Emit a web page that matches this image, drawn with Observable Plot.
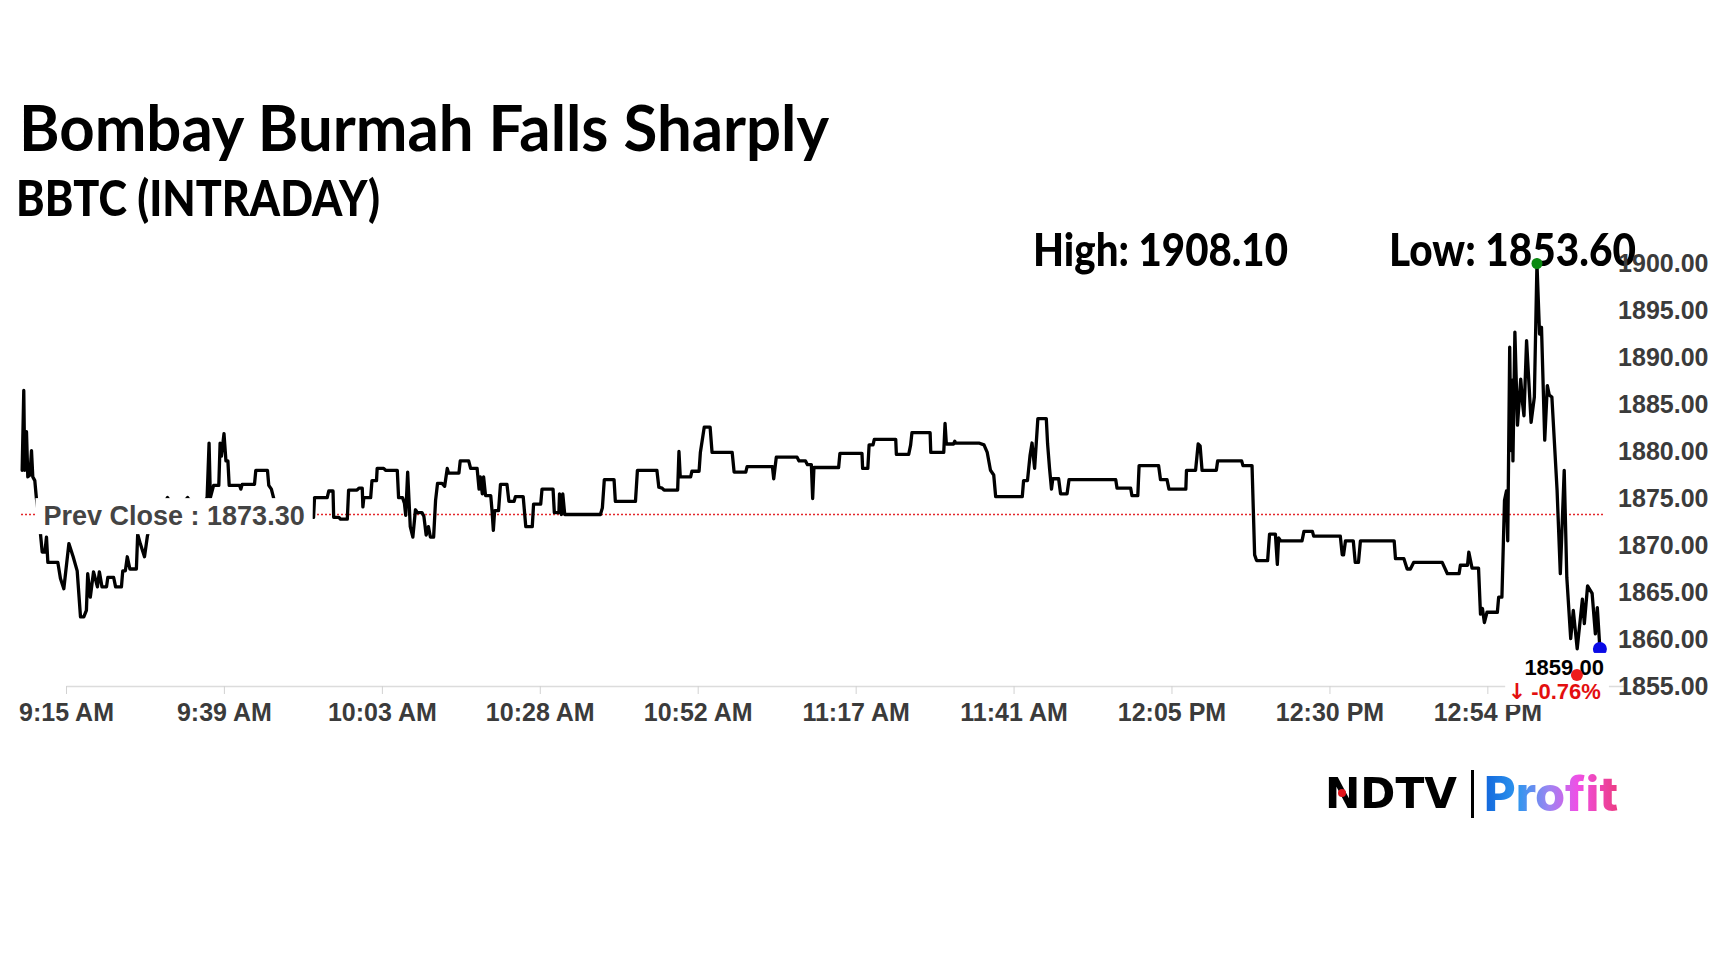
<!DOCTYPE html>
<html>
<head>
<meta charset="utf-8">
<script src="https://cdn.jsdelivr.net/npm/d3@7"></script>
<script src="https://cdn.jsdelivr.net/npm/@observablehq/plot@0.6"></script>
<style>
  html, body { margin: 0; padding: 0; background: #fff; }
  body { width: 1728px; height: 972px; position: relative; overflow: hidden; }
  .cal { position: absolute; font-family: Lato, "Noto Sans", sans-serif; font-weight: 700; color: #000;
         line-height: 1; white-space: nowrap; transform-origin: 0 0; }
  #title { left: 19px; top: 95px; font-size: 64px; }
  #subtitle { left: 16px; top: 172px; font-size: 50px; font-weight: 900; }
  #high { left: 1033px; top: 226px; font-size: 46px; font-weight: 900; }
  #low { left: 1389px; top: 226px; font-size: 46px; font-weight: 900; }
  #ndtv { position: absolute; left: 1325px; top: 773px; font-family: "DejaVu Sans", sans-serif; font-weight: 700;
          font-size: 42px; line-height: 1; color: #000; white-space: nowrap; transform-origin: 0 0; }
  #ndtvdot { position: absolute; left: 1338px; top: 789px; width: 8px; height: 8px; border-radius: 50%; background: #e3141b; }
  #bar { position: absolute; left: 1471px; top: 770px; width: 3px; height: 48px; background: #000; }
  #profit { position: absolute; left: 1484px; top: 770px; font-family: Inter, Roboto, sans-serif; font-weight: 800;
            font-size: 48px; line-height: 1; white-space: nowrap; transform-origin: 0 0;
            background: linear-gradient(90deg, #1266dc 0%, #2e96ee 25%, #9a86f2 48%, #f04fe6 70%, #ec3c82 100%);
            -webkit-background-clip: text; background-clip: text; color: transparent; }
  #chart { position: absolute; left: 0; top: 0; z-index: 2; }
</style>
</head>
<body>
<div id="title" class="cal" data-w="810">Bombay Burmah Falls Sharply</div>
<div id="subtitle" class="cal" data-w="364">BBTC (INTRADAY)</div>
<div id="high" class="cal" data-w="255"></div>
<div id="low" class="cal" data-w="247"></div>
<div id="ndtv" data-w="132">NDTV</div>
<div id="ndtvdot"></div>
<div id="bar"></div>
<div id="profit" data-w="134">Profit</div>
<div id="chart"></div>
<script>
// ---- data (minutes after 9:15 AM, price) ----
const minutes = [
  0.1, 0.35, 0.5, 0.77, 0.97, 1.3, 1.54, 1.74, 2.05, 2.3,
  2.67, 2.93, 3.19, 3.6, 3.85, 4.06, 5.6, 6.0, 6.52, 7.3,
  7.96, 8.58, 9.09, 9.6, 10.0, 10.2, 10.6, 11.1, 11.7, 12.0,
  12.4, 13.1, 13.3, 14.2, 14.5, 15.4, 15.6, 16.0, 16.3, 16.7,
  17.7, 17.9, 18.3, 18.95, 19.4, 19.7, 21.1, 22.5, 23.7, 25.6,
  27.1, 28.6, 28.9, 29.1, 29.6, 30.4, 30.6, 30.8, 31.2, 31.5,
  31.8, 32.0, 33.6, 33.8, 34.0, 35.9, 36.1, 37.9, 38.1, 38.5,
  38.9, 41.4, 45.0, 45.15, 47.1, 47.35, 48.0, 48.1, 48.9, 49.15,
  50.2, 50.4, 51.7, 52.0, 52.5, 52.6, 52.75, 53.8, 54.0, 54.7,
  54.8, 55.8, 56.1, 57.9, 58.1, 58.7, 59.0, 59.2, 59.5, 59.9,
  60.3, 60.7, 61.0, 61.7, 62.0, 62.35, 62.7, 63.0, 63.5, 63.8,
  64.1, 64.8, 65.2, 65.6, 65.8, 67.4, 67.6, 68.9, 69.2, 70.2,
  70.5, 70.7, 71.0, 71.2, 71.5, 72.3, 72.5, 72.7, 72.9, 73.5,
  73.8, 74.8, 75.1, 75.9, 76.1, 77.3, 77.7, 78.7, 78.9, 80.0,
  80.2, 81.9, 82.1, 82.8, 82.9, 83.2, 83.4, 83.7, 89.2, 89.5,
  89.8, 91.3, 91.5, 94.6, 94.9, 97.9, 98.2, 98.7, 99.0, 101.1,
  101.3, 101.5, 103.1, 103.3, 104.4, 104.6, 105.2, 106.1, 106.4, 109.5,
  109.8, 111.6, 111.8, 115.7, 115.9, 116.3, 119.5, 119.8, 120.8, 121.1,
  121.7, 121.9, 122.1, 125.9, 126.1, 129.5, 129.6, 130.4, 130.6, 131.2,
  131.4, 134.7, 134.8, 136.7, 137.0, 137.2, 140.0, 140.1, 142.1, 142.3,
  142.5, 143.6, 143.8, 143.9, 147.5, 148.3, 148.8, 149.3, 149.8, 150.1,
  154.2, 154.4, 155.0, 155.4, 155.7, 156.1, 156.6, 157.9, 158.1, 158.4,
  158.7, 158.9, 159.8, 160.1, 161.1, 161.4, 168.6, 168.8, 170.9, 171.1,
  172.0, 172.2, 175.2, 175.5, 176.5, 176.8, 179.4, 179.5, 180.9, 181.3,
  181.6, 181.9, 184.1, 184.3, 188.0, 188.2, 189.6, 190.0, 190.3, 192.0,
  192.3, 193.2, 193.5, 193.7, 194.0, 197.3, 197.6, 198.9, 199.1, 203.2,
  203.5, 203.7, 204.0, 205.2, 205.5, 206.0, 206.3, 211.5, 211.7, 213.0,
  213.5, 214.0, 214.5, 218.9, 219.7, 221.5, 221.7, 222.8, 223.0, 223.5,
  224.5, 224.8, 225.1, 225.4, 225.8, 227.4, 227.6, 228.1, 228.5, 228.8,
  229.0, 229.3, 229.5, 229.7, 229.8, 230.1, 230.5, 231.0, 231.3, 231.5,
  231.9, 232.6, 233.1, 233.5, 233.9, 234.2, 234.7, 235.1, 235.4, 235.8,
  236.6, 237.1, 237.7, 238.1, 238.7, 239.1, 239.7, 240.5, 240.8, 241.3,
  242.0, 242.5, 242.8, 243.2
];
const prices = [
  1878.0, 1886.5, 1878.0, 1882.1, 1877.3, 1877.5, 1880.1, 1877.3, 1876.9, 1875.0,
  1873.0, 1871.2, 1869.3, 1869.3, 1870.9, 1868.2, 1868.2, 1866.5, 1865.4, 1870.2,
  1868.8, 1867.3, 1862.4, 1862.4, 1863.1, 1867.0, 1864.5, 1867.2, 1865.6, 1867.2,
  1865.6, 1865.6, 1866.6, 1866.6, 1865.6, 1865.6, 1867.3, 1867.3, 1868.8, 1867.5,
  1867.5, 1871.2, 1870.2, 1868.8, 1871.0, 1872.0, 1873.5, 1875.1, 1873.5, 1875.1,
  1873.5, 1875.1, 1880.9, 1875.1, 1876.4, 1876.4, 1880.9, 1879.5, 1881.9, 1879.0,
  1879.0, 1876.4, 1876.4, 1876.0, 1876.5, 1876.5, 1878.0, 1878.0, 1876.4, 1876.0,
  1874.9, 1873.5, 1873.0, 1875.1, 1875.1, 1875.8, 1875.8, 1873.0, 1873.0, 1872.8,
  1872.8, 1875.9, 1875.9, 1876.1, 1876.1, 1874.1, 1875.1, 1875.1, 1876.9, 1876.9,
  1878.2, 1878.2, 1878.0, 1878.0, 1875.1, 1875.1, 1874.5, 1873.2, 1877.8, 1872.0,
  1870.9, 1873.8, 1873.5, 1873.5, 1873.1, 1871.1, 1872.0, 1870.9, 1870.9, 1874.8,
  1876.6, 1876.6, 1876.3, 1878.2, 1877.7, 1877.7, 1879.0, 1879.0, 1878.2, 1878.2,
  1876.0, 1877.3, 1875.5, 1877.3, 1875.3, 1875.3, 1873.7, 1871.6, 1873.7, 1873.7,
  1876.5, 1876.5, 1874.7, 1874.7, 1875.2, 1875.2, 1872.0, 1872.0, 1874.4, 1874.4,
  1876.0, 1876.0, 1873.5, 1873.5, 1875.5, 1873.3, 1875.5, 1873.3, 1873.3, 1874.0,
  1877.0, 1877.0, 1874.7, 1874.7, 1878.0, 1878.0, 1876.2, 1876.1, 1875.9, 1875.9,
  1880.0, 1877.3, 1877.3, 1877.9, 1877.9, 1879.9, 1882.6, 1882.6, 1879.9, 1879.9,
  1877.8, 1877.8, 1878.4, 1878.4, 1877.1, 1879.4, 1879.4, 1879.0, 1879.0, 1878.6,
  1878.6, 1875.0, 1878.3, 1878.3, 1879.8, 1879.8, 1878.2, 1878.2, 1880.7, 1880.7,
  1881.3, 1881.3, 1879.7, 1879.7, 1880.7, 1882.0, 1882.0, 1879.9, 1879.9, 1883.0,
  1880.8, 1880.8, 1881.1, 1880.9, 1880.9, 1880.7, 1879.9, 1878.0, 1877.5, 1875.2,
  1875.2, 1876.9, 1876.9, 1879.6, 1880.9, 1878.2, 1883.5, 1883.5, 1880.8, 1878.2,
  1876.0, 1877.1, 1877.1, 1875.5, 1875.5, 1877.0, 1877.0, 1876.1, 1876.1, 1875.3,
  1875.3, 1878.5, 1878.5, 1877.0, 1877.0, 1876.0, 1876.0, 1878.0, 1878.0, 1880.8,
  1880.6, 1878.0, 1878.0, 1879.0, 1879.0, 1878.5, 1878.5, 1869.0, 1868.4, 1868.4,
  1871.2, 1871.2, 1868.0, 1870.8, 1870.5, 1870.5, 1871.5, 1871.5, 1871.0, 1871.0,
  1869.0, 1869.0, 1870.5, 1870.5, 1868.2, 1868.2, 1870.5, 1870.5, 1868.6, 1868.6,
  1867.5, 1867.5, 1868.2, 1868.2, 1867.0, 1867.0, 1867.9, 1867.9, 1869.3, 1867.6,
  1867.6, 1862.7, 1863.3, 1861.8, 1862.9, 1862.9, 1864.5, 1864.5, 1874.8, 1875.8,
  1870.5, 1891.1, 1880.1, 1887.6, 1879.0, 1892.7, 1882.8, 1887.7, 1885.0, 1883.8,
  1891.8, 1883.1, 1885.8, 1900.0, 1892.5, 1893.2, 1881.2, 1887.0, 1886.0, 1885.8,
  1875.9, 1867.0, 1878.0, 1866.6, 1860.1, 1863.1, 1859.0, 1864.3, 1861.7, 1865.7,
  1864.9, 1860.6, 1863.4, 1859.0
];
const prevClose = 1873.30;
const dayHigh = 1908.10;
const dayLow = 1853.60;
const yTicks = [1855, 1860, 1865, 1870, 1875, 1880, 1885, 1890, 1895, 1900];
const xTickMinutes = [0, 24.33, 48.67, 73, 97.33, 121.67, 146, 170.33, 194.67, 219];
const xTickLabels = ["9:15 AM", "9:39 AM", "10:03 AM", "10:28 AM", "10:52 AM",
                     "11:17 AM", "11:41 AM", "12:05 PM", "12:30 PM", "12:54 PM"];
const xDomain = [0, 244];
const yDomain = [1855, 1900];
const baselineSpan = [7, 247];

// ---- build ----
document.getElementById("high").textContent = `High: ${dayHigh.toFixed(2)}`;
document.getElementById("low").textContent = `Low: ${dayLow.toFixed(2)}`;

const data = minutes.map((t, i) => ({t, p: prices[i]}));
const last = data[data.length - 1];
const peak = data.reduce((a, b) => (b.p > a.p ? b : a));
const pct = (last.p - prevClose) / prevClose * 100;
const sans = "'Liberation Sans', Arial, sans-serif";

const chart = Plot.plot({
  width: 1728,
  height: 972,
  marginLeft: 21,
  marginRight: 123.4,
  marginTop: 263,
  marginBottom: 286,
  style: {background: "none", fontFamily: sans, overflow: "visible"},
  x: {domain: xDomain},
  y: {domain: yDomain},
  marks: [
    Plot.ruleY([yDomain[0]], {x1: () => baselineSpan[0], x2: () => baselineSpan[1], stroke: "#dcdcdc", strokeWidth: 1.5}),
    Plot.axisX(xTickMinutes, {
      tickSize: 8, tickPadding: 9, label: null,
      tickFormat: d => xTickLabels[xTickMinutes.indexOf(d)],
      textAnchor: "middle", dx: 45,
      fontSize: 25, fontWeight: "bold", fill: "#3b3b3b", stroke: "#d2d2d2"
    }),
    Plot.axisY(yTicks, {
      anchor: "right", tickSize: 0, tickPadding: 13, label: null,
      tickFormat: d3.format(".2f"),
      fontSize: 25, fontWeight: "bold", fill: "#3b3b3b"
    }),
    Plot.ruleY([prevClose], {stroke: "#e3262b", strokeWidth: 1.3, strokeDasharray: "2,2"}),
    Plot.line(data, {x: "t", y: "p", stroke: "#000", strokeWidth: 3.3}),
    Plot.text([`Prev Close : ${prevClose.toFixed(2)}`], {
      frameAnchor: "left", y: () => prevClose, dx: 22, dy: 2, textAnchor: "start",
      fontSize: 27, fontWeight: "bold", fill: "#444", ariaDescription: "boxed 8 3"
    }),
    Plot.dot([last], {x: "t", y: "p", r: 7, fill: "#0a0ae6"}),
    Plot.text([last], {
      x: "t", y: "p", text: d => d.p.toFixed(2), textAnchor: "end", dx: 4, dy: 19,
      fontSize: 22, fontWeight: "bold", fill: "#000", ariaDescription: "boxed 4 2"
    }),
    Plot.text([last], {
      x: "t", y: "p", text: () => `${pct.toFixed(2)}%`, textAnchor: "end", dx: 1, dy: 43,
      fontSize: 22, fontWeight: "bold", fill: "#e30f0f", ariaDescription: "boxed 26 1"
    }),
    Plot.text([last], {
      x: "t", y: "p", text: () => (pct < 0 ? "↓" : "↑"), textAnchor: "middle", dx: -83, dy: 43,
      fontSize: 22, fontWeight: "bold", fill: "#e30f0f", fontFamily: "'DejaVu Sans', sans-serif"
    }),
    Plot.dot([last], {x: "t", y: "p", r: 6, fill: "#ee1c1c", dx: -23, dy: 26}),
    Plot.dot([peak], {x: "t", y: "p", r: 5.5, fill: "#0b8a12"})
  ]
});
document.getElementById("chart").appendChild(chart);

// white boxes behind annotation labels (padding read from the description)
chart.querySelectorAll('g[aria-description^="boxed"] text').forEach(t => {
  const [, px, py] = t.parentNode.getAttribute("aria-description").split(" ").map(Number);
  const b = t.getBBox();
  const r = document.createElementNS("http://www.w3.org/2000/svg", "rect");
  r.setAttribute("x", b.x - px);
  r.setAttribute("y", b.y - py);
  r.setAttribute("width", b.width + px + Math.min(px, 8));
  r.setAttribute("height", b.height + 2 * py);
  r.setAttribute("fill", "#fff");
  r.setAttribute("stroke", "none");
  const tr = t.getAttribute("transform");
  if (tr) r.setAttribute("transform", tr);
  t.parentNode.insertBefore(r, t);
});

// fit condensed headline text to reference widths
function fit() {
  document.querySelectorAll("[data-w]").forEach(el => {
    el.style.transform = "none";
    const w = el.getBoundingClientRect().width;
    el.style.transform = `scaleX(${(+el.dataset.w / w).toFixed(4)})`;
  });
}
fit();
if (document.fonts && document.fonts.ready) document.fonts.ready.then(fit);
</script>
</body>
</html>
